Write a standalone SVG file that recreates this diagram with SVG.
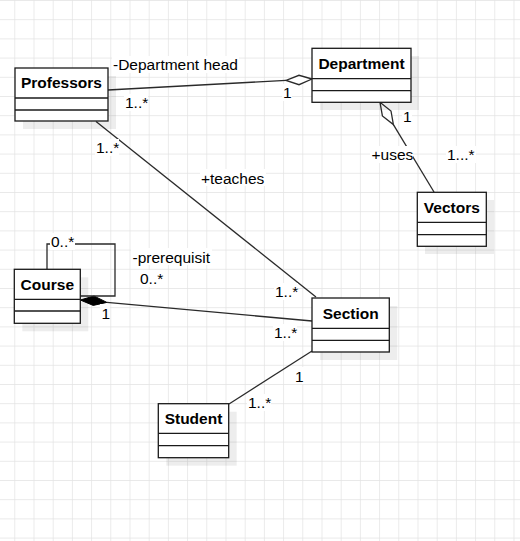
<svg xmlns="http://www.w3.org/2000/svg" width="520" height="541" viewBox="0 0 520 541">
<defs>
<pattern id="grid" x="14.3" y="0" width="19.2" height="19.2" patternUnits="userSpaceOnUse">
<path d="M0 0 V19.2 M0 0 H19.2" fill="none" stroke="#e2e2e2" stroke-width="1.4"/>
</pattern>
<style>
.box{fill:#fff;stroke:#1a1a1a;stroke-width:1.3}
.sh{fill:#000;opacity:0.07}
.div{stroke:#1a1a1a;stroke-width:1.3}
.title{font-family:"Liberation Sans",Arial,sans-serif;font-size:15.5px;font-weight:bold;fill:#000;text-anchor:middle}
.lbl{font-family:"Liberation Sans",Arial,sans-serif;font-size:15.5px;fill:#000}
.edge{fill:none;stroke:#2a2a2a;stroke-width:1.3}
.bg{fill:#fff}
</style>
</defs>
<rect width="520" height="541" fill="#fff"/>
<rect width="520" height="541" fill="url(#grid)"/>

<g id="connectors">
<!-- Professors - Department -->
<path class="edge" d="M108 90 L286 80.4"/>
<path d="M312 79 L299 75.3 L286 80.4 L299 84.7 Z" fill="#fff" stroke="#2a2a2a" stroke-width="1.3"/>
<!-- Department - Vectors -->
<path class="edge" d="M393.4 124.6 L434 192"/>
<path d="M380 102.3 L382.4 115.9 L393.4 124.6 L391 111.0 Z" fill="#fff" stroke="#2a2a2a" stroke-width="1.3"/>
<!-- Professors - Section -->
<path class="edge" d="M96 121.5 L316 297"/>
<!-- Course - Section -->
<path class="edge" d="M106.9 302.4 L312 321"/>
<path d="M80.3 300 L94 296 L106.9 302.4 L93.2 305.4 Z" fill="#000" stroke="#000" stroke-width="1"/>
<!-- Course self loop -->
<path class="edge" d="M47 269 L47 244 L115 244 L115 296 L80.3 296"/>
<!-- Section - Student -->
<path class="edge" d="M312 351 L229 404"/>

<!-- labels -->
<rect class="bg" x="112" y="56" width="127" height="17"/>
<text class="lbl" x="113" y="69.5">-Department head</text>
<rect class="bg" x="124" y="94" width="24" height="17"/>
<text class="lbl" x="125" y="108">1..*</text>
<rect class="bg" x="282" y="84" width="10" height="17"/>
<text class="lbl" x="283" y="98">1</text>
<rect class="bg" x="402" y="108" width="10" height="17"/>
<text class="lbl" x="403" y="122">1</text>
<rect class="bg" x="370" y="146" width="43" height="17"/>
<text class="lbl" x="371.5" y="160">+uses</text>
<rect class="bg" x="446" y="146" width="30" height="17"/>
<text class="lbl" x="447" y="160">1...*</text>
<rect class="bg" x="95" y="139" width="24" height="17"/>
<text class="lbl" x="96" y="153">1..*</text>
<rect class="bg" x="200" y="169" width="66" height="17"/>
<text class="lbl" x="201" y="183.5">+teaches</text>
<rect class="bg" x="274" y="283" width="24" height="17"/>
<text class="lbl" x="275" y="297">1..*</text>
<rect class="bg" x="50" y="233" width="25" height="17"/>
<text class="lbl" x="51" y="246.5">0..*</text>
<rect class="bg" x="131" y="248" width="81" height="17"/>
<text class="lbl" x="132.5" y="262.5">-prerequisit</text>
<rect class="bg" x="139" y="270" width="25" height="17"/>
<text class="lbl" x="140" y="284">0..*</text>
<rect class="bg" x="100" y="304" width="10" height="17"/>
<text class="lbl" x="101.5" y="318.5">1</text>
<rect class="bg" x="273" y="324" width="24" height="17"/>
<text class="lbl" x="274" y="338">1..*</text>
<rect class="bg" x="294" y="367" width="10" height="17"/>
<text class="lbl" x="295" y="381.5">1</text>
<rect class="bg" x="247" y="394" width="24" height="17"/>
<text class="lbl" x="248" y="408">1..*</text>
</g>

<g id="professors">
<rect class="sh" x="23" y="76" width="93" height="53"/>
<rect class="box" x="15" y="68" width="93" height="53"/>
<line class="div" x1="15" y1="98" x2="108" y2="98"/>
<line class="div" x1="15" y1="110" x2="108" y2="110"/>
<text class="title" x="61.5" y="88">Professors</text>
</g>

<g id="department">
<rect class="sh" x="320" y="56" width="99" height="54"/>
<rect class="box" x="312" y="48.3" width="99" height="54"/>
<line class="div" x1="312" y1="78.7" x2="411" y2="78.7"/>
<line class="div" x1="312" y1="90.7" x2="411" y2="90.7"/>
<text class="title" x="361.5" y="69">Department</text>
</g>

<g id="vectors">
<rect class="sh" x="425" y="200" width="69" height="54"/>
<rect class="box" x="417.3" y="192.3" width="69" height="54"/>
<line class="div" x1="417.3" y1="222.3" x2="486.3" y2="222.3"/>
<line class="div" x1="417.3" y1="234.7" x2="486.3" y2="234.7"/>
<text class="title" x="451.8" y="212.5">Vectors</text>
</g>

<g id="course">
<rect class="sh" x="22.3" y="277.3" width="66" height="54"/>
<rect class="box" x="14.3" y="269.3" width="66" height="54"/>
<line class="div" x1="14.3" y1="299.3" x2="80.3" y2="299.3"/>
<line class="div" x1="14.3" y1="311" x2="80.3" y2="311"/>
<text class="title" x="47.3" y="289.5">Course</text>
</g>

<g id="section">
<rect class="sh" x="320" y="306" width="77.3" height="54"/>
<rect class="box" x="312" y="298" width="77.3" height="54"/>
<line class="div" x1="312" y1="328.3" x2="389.3" y2="328.3"/>
<line class="div" x1="312" y1="340.3" x2="389.3" y2="340.3"/>
<text class="title" x="350.7" y="319">Section</text>
</g>

<g id="student">
<rect class="sh" x="166.3" y="411.7" width="70.4" height="54"/>
<rect class="box" x="158.3" y="403.7" width="70.4" height="54"/>
<line class="div" x1="158.3" y1="433.3" x2="228.7" y2="433.3"/>
<line class="div" x1="158.3" y1="445.7" x2="228.7" y2="445.7"/>
<text class="title" x="193.5" y="424">Student</text>
</g>
</svg>
